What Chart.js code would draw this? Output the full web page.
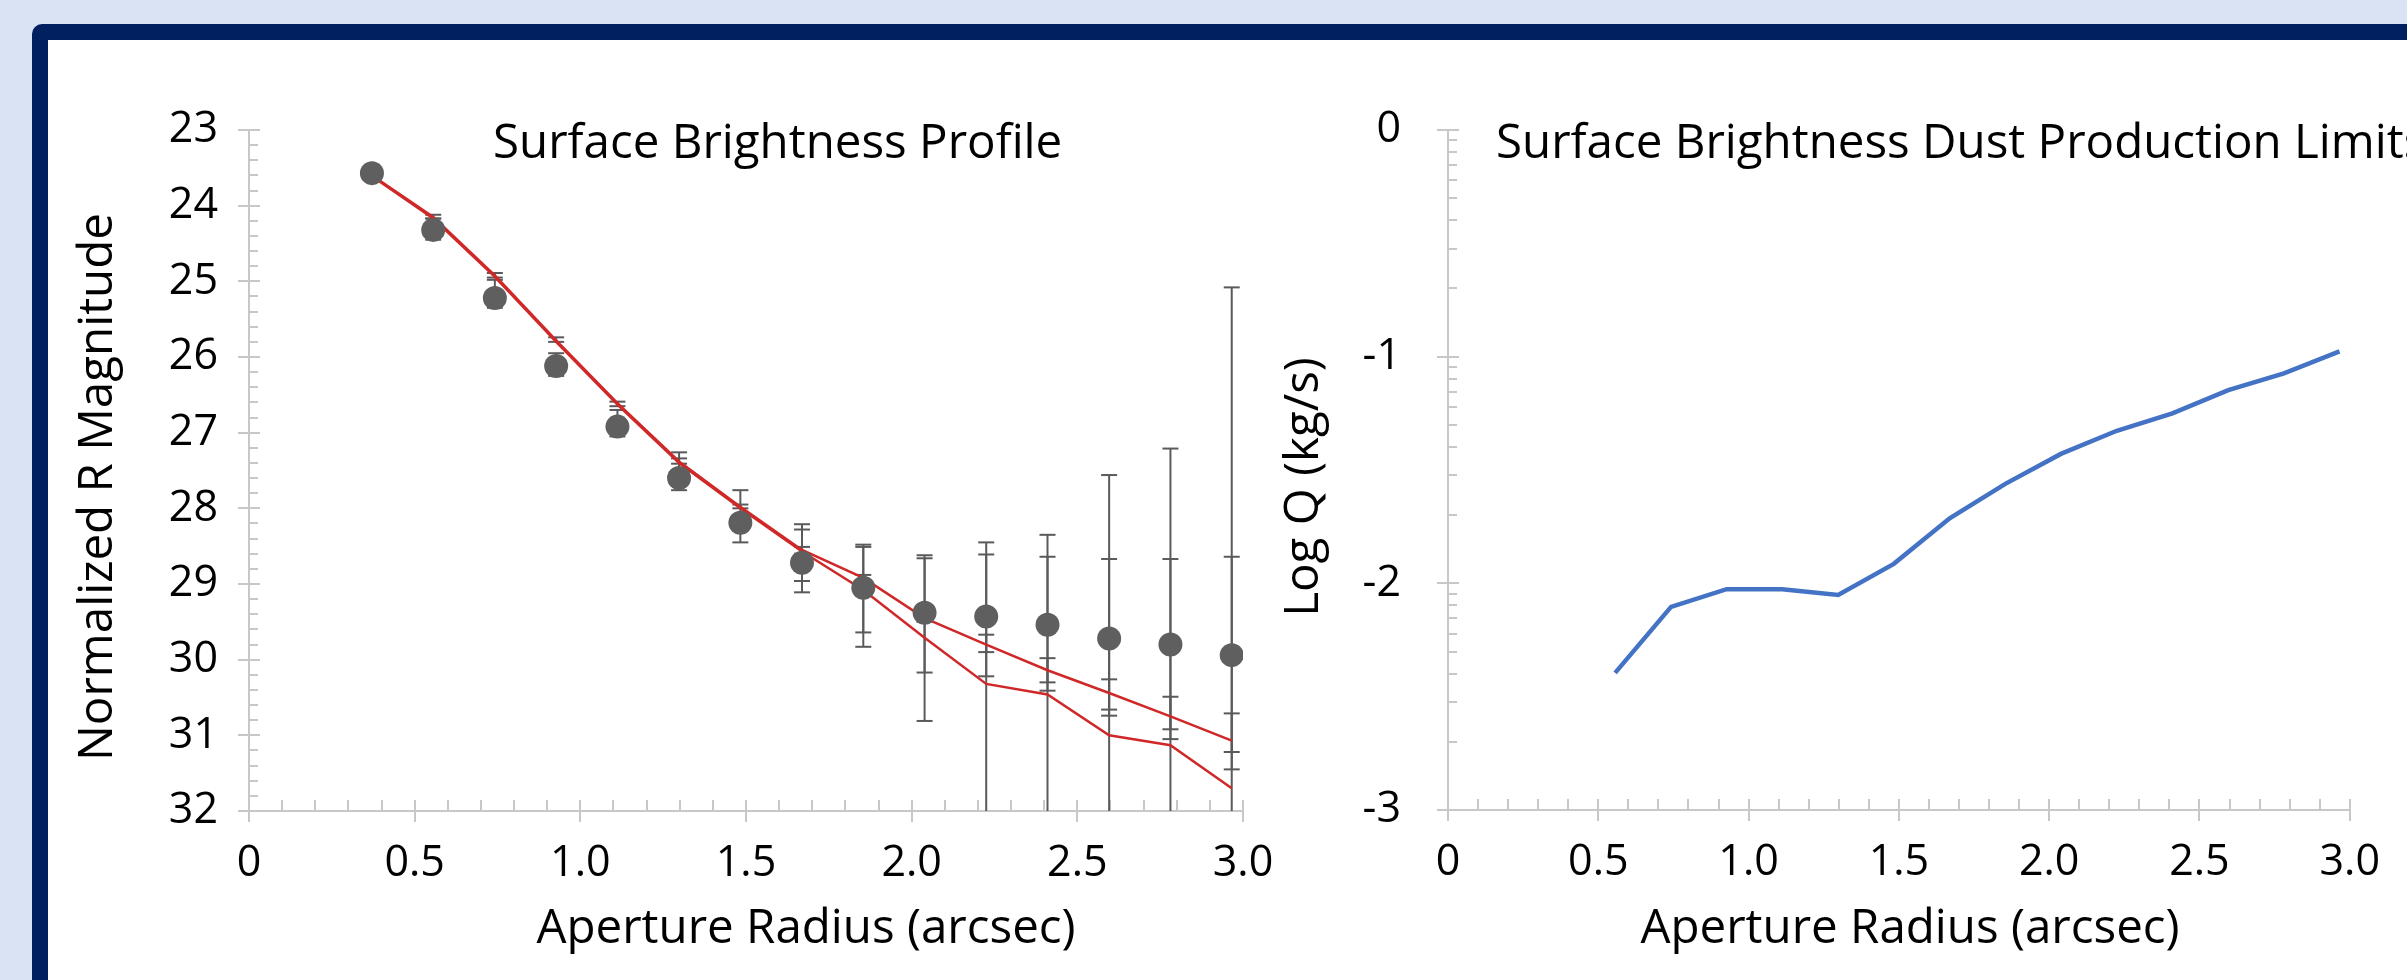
<!DOCTYPE html>
<html lang="en">
<head>
<meta charset="UTF-8">
<title>Surface Brightness</title>
<script src="https://cdn.jsdelivr.net/npm/chart.js"></script>
<style>
  body { margin: 0; width: 2407px; height: 980px; overflow: hidden; position: relative; background: #dae3f3; }
  #frame { position: absolute; left: 32px; top: 24px; width: 2460px; height: 1000px; box-sizing: border-box;
           border: 16px solid #002060; border-radius: 10px; background: #fff; }
  canvas { position: absolute; left: 0; top: 0; }
</style>
</head>
<body>
<div id="frame"></div>
<canvas id="profile" width="2407" height="980"></canvas>
<canvas id="limits" width="2407" height="980"></canvas>
<script>
// aperture radii (arcsec)
const radius = [0.371, 0.556, 0.742, 0.927, 1.112, 1.298, 1.483, 1.669, 1.854, 2.039, 2.225, 2.410, 2.596, 2.781, 2.966];
// measured surface brightness (R mag) and its error bar ends
const magnitude = [23.57, 24.32, 25.22, 26.12, 26.92, 27.60, 28.19, 28.72, 29.05, 29.38, 29.43, 29.54, 29.72, 29.80, 29.94];
const magErrTop = [null, 24.17, 24.98, 25.95, 26.70, 27.26, 27.76, 28.21, 28.48, 28.62, 28.45, 28.35, 27.56, 27.21, 25.08];
const magErrBottom = [null, 24.45, 25.35, 26.25, 27.05, 27.76, 28.45, 29.11, 29.83, 30.81, 33, 33, 33, 33, 33];
// the two red model curves with their error bar ends
const modelA = [23.60, 24.15, 24.92, 25.78, 26.61, 27.38, 27.98, 28.55, 28.92, 29.45, 29.80, 30.14, 30.44, 30.75, 31.07];
const modelAErrTop = [null, 24.12, 24.89, 25.74, 26.59, 27.34, 27.95, 28.51, 28.88, 29.40, 29.67, 29.98, 30.26, 30.49, 30.71];
const modelAErrBottom = [null, 24.17, 24.95, 25.80, 26.65, 27.41, 28.00, 28.60, 28.97, 29.50, 29.90, 30.30, 30.66, 30.92, 31.45];
const modelB = [23.61, 24.17, 24.94, 25.80, 26.63, 27.40, 28.00, 28.57, 29.08, 29.71, 30.32, 30.46, 31.00, 31.13, 31.70];
const modelBErrTop = [null, null, null, null, null, null, null, 28.28, 28.51, 28.66, 28.61, 28.64, 28.67, 28.67, 28.64];
const modelBErrBottom = [null, null, null, null, null, null, null, 28.96, 29.64, 30.17, 30.22, 30.41, 30.74, 31.05, 31.22];

// dust production limits
const limitRadius = [0.556, 0.742, 0.927, 1.112, 1.298, 1.483, 1.669, 1.854, 2.039, 2.225, 2.410, 2.596, 2.781, 2.966];
const logQ = [-2.395, -2.104, -2.026, -2.026, -2.051, -1.914, -1.713, -1.561, -1.429, -1.327, -1.250, -1.148, -1.074, -0.977];

const profileMajorY = [23, 24, 25, 26, 27, 28, 29, 30, 31, 32];
const limitsMajorY = [-3, -2, -1, 0];

const FONT = "'Open Sans'";
const axisColor = '#c8c8c8';
const errColor = '#5a5a5a';

function pts(xs, ys) { return xs.map((x, i) => ({ x: x, y: ys[i] })); }

// ticks, titles and error bars drawn on top of the library scales
const decor = {
  id: 'decor',
  beforeDatasetsDraw(chart, args, o) {
    const { ctx, chartArea: a, scales: { x, y } } = chart;
    ctx.save();
    ctx.strokeStyle = axisColor;
    ctx.lineWidth = 2;
    const seg = (x1, y1, x2, y2) => { ctx.beginPath(); ctx.moveTo(x1, y1); ctx.lineTo(x2, y2); ctx.stroke(); };
    seg(a.left, a.top, a.left, a.bottom);
    seg(a.left, a.bottom, a.right, a.bottom);
    for (let i = 0; i <= 30; i++) {
      const px = Math.round(x.getPixelForValue(i / 10));
      if (i % 5 === 0) seg(px, a.bottom - 11, px, a.bottom + 11);
      else seg(px, a.bottom - 11, px, a.bottom);
    }
    o.majorY.forEach(v => { const py = Math.round(y.getPixelForValue(v)); seg(a.left - 11, py, a.left + 11, py); });
    o.minorY.forEach(v => { const py = Math.round(y.getPixelForValue(v)); seg(a.left, py, a.left + 9, py); });

    // error bars
    ctx.beginPath();
    ctx.rect(a.left, a.top, a.right - a.left, a.bottom - a.top);
    ctx.clip();
    ctx.strokeStyle = errColor;
    ctx.lineWidth = 2;
    (o.errors || []).forEach(set => {
      set.top.forEach((t, i) => {
        const b = set.bottom[i];
        if (t == null || b == null) return;
        const px = x.getPixelForValue(set.x[i]);
        const p1 = y.getPixelForValue(t), p2 = y.getPixelForValue(b);
        seg(px, p1, px, p2);
        seg(px - 8, p1, px + 8, p1);
        seg(px - 8, p2, px + 8, p2);
      });
    });
    ctx.restore();
  },
  afterDraw(chart, args, o) {
    const { ctx } = chart;
    ctx.save();
    ctx.fillStyle = '#000';
    ctx.font = '47.5px ' + FONT;
    ctx.textBaseline = 'alphabetic';
    ctx.textAlign = 'left';
    ctx.fillText(o.title, o.titleX, 158);
    ctx.textAlign = 'center';
    ctx.fillText('Aperture Radius (arcsec)', o.xTitleX, 943);
    ctx.translate(o.yTitleX, 487);
    ctx.rotate(-Math.PI / 2);
    ctx.fillText(o.yTitle, 0, 0);
    ctx.restore();
  }
};

const xScale = (h) => ({
  type: 'linear', position: 'bottom', min: 0, max: 3,
  grid: { display: false, drawTicks: false }, border: { display: false },
  ticks: { stepSize: 0.5, padding: 27, color: '#000', font: { family: FONT, size: 43 },
           maxRotation: 0, autoSkip: false,
           callback: v => v === 0 ? '0' : v.toFixed(1) },
  afterFit: s => { s.height = h; }
});

function drawCharts() {
  Chart.defaults.font.family = FONT;

  let minorProfile = [];
  for (let i = 0; i < 45; i++) { if (i % 5) minorProfile.push(23 + i / 5); }
  let minorLimits = [];
  [-3, -2, -1].forEach(m => { for (let k = 2; k <= 9; k++) minorLimits.push(m + Math.log10(k)); });

  new Chart(document.getElementById('profile'), {
    type: 'scatter',
    data: {
      datasets: [
        { data: pts(radius, magnitude), pointRadius: 12, pointHoverRadius: 12,
          backgroundColor: '#5f5f5f', borderWidth: 0, showLine: false },
        { data: pts(radius, modelA), showLine: true, pointRadius: 0, borderColor: '#d02828', borderWidth: 2.5 },
        { data: pts(radius, modelB), showLine: true, pointRadius: 0, borderColor: '#d02828', borderWidth: 2.5 }
      ]
    },
    options: {
      responsive: false, animation: false, devicePixelRatio: 1,
      layout: { padding: { left: 0, right: 2407 - 1243, top: 130, bottom: 0 } },
      scales: {
        x: xScale(980 - 811),
        y: {
          type: 'linear', reverse: true, min: 23, max: 32,
          grid: { display: false, drawTicks: false }, border: { display: false },
          ticks: { stepSize: 1, padding: 31, color: '#000', font: { family: FONT, size: 43 } },
          afterFit: s => { s.width = 249; }
        }
      },
      plugins: {
        legend: { display: false }, tooltip: { enabled: false },
        decor: {
          majorY: profileMajorY, minorY: minorProfile,
          title: 'Surface Brightness Profile', titleX: 493,
          xTitleX: 806, yTitle: 'Normalized R Magnitude', yTitleX: 112,
          errors: [
            { x: radius, top: magErrTop, bottom: magErrBottom },
            { x: radius, top: modelAErrTop, bottom: modelAErrBottom },
            { x: radius, top: modelBErrTop, bottom: modelBErrBottom }
          ]
        }
      }
    },
    plugins: [decor]
  });

  new Chart(document.getElementById('limits'), {
    type: 'scatter',
    data: {
      datasets: [
        { data: pts(limitRadius, logQ), showLine: true, pointRadius: 0, borderColor: '#4472c4', borderWidth: 4.5 }
      ]
    },
    options: {
      responsive: false, animation: false, devicePixelRatio: 1,
      layout: { padding: { left: 1300, right: 2407 - 2363, top: 130, bottom: 0 } },
      scales: {
        x: xScale(980 - 810),
        y: {
          type: 'linear', min: -3, max: 0,
          grid: { display: false, drawTicks: false }, border: { display: false },
          ticks: { stepSize: 1, padding: 47, color: '#000', font: { family: FONT, size: 43 } },
          afterFit: s => { s.width = 1448 - 1300; }
        }
      },
      plugins: {
        legend: { display: false }, tooltip: { enabled: false },
        decor: {
          majorY: limitsMajorY, minorY: minorLimits,
          title: 'Surface Brightness Dust Production Limits', titleX: 1496,
          xTitleX: 1910, yTitle: 'Log Q (kg/s)', yTitleX: 1318
        }
      }
    },
    plugins: [decor]
  });
}

document.fonts.load('43px ' + FONT).then(drawCharts, drawCharts);
</script>
</body>
</html>
